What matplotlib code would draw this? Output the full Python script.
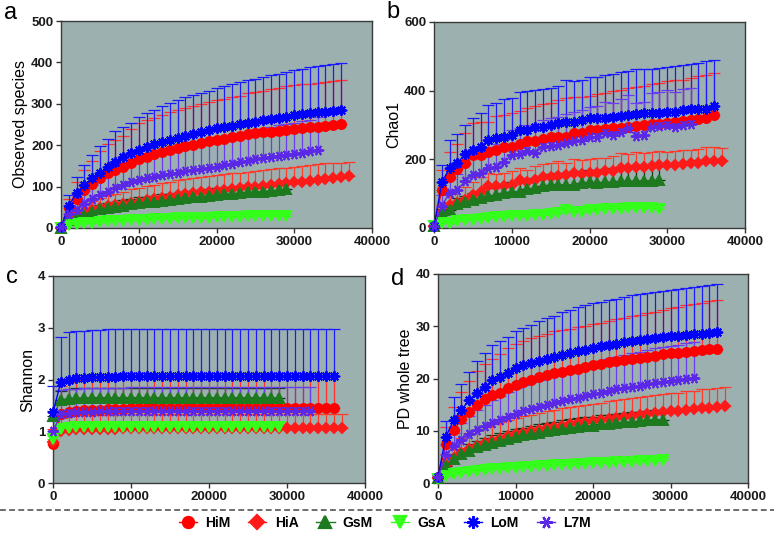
import matplotlib.pyplot as plt
from matplotlib.lines import Line2D
import numpy as np

plt.rcParams['font.family'] = ['Liberation Sans', 'DejaVu Sans']

# sequencing depths (rarefaction steps)
depth_29 = [10] + list(range(1000, 29001, 1000))
depth_33 = [10] + list(range(1000, 33001, 1000))
depth_36 = [10] + list(range(1000, 36001, 1000))
depth_37 = [10] + list(range(1000, 37001, 1000))

groups = ['HiM', 'HiA', 'GsM', 'GsA', 'LoM', 'L7M']

# ---- a: Observed species
obs_HiM = [2, 48, 71, 91, 107, 120, 132, 140, 148, 157, 166, 172, 178, 184, 189, 193, 197, 201, 205, 209, 213,
           216, 219, 222, 226, 229, 231, 233, 235, 237, 239, 241, 243, 245, 247, 249, 251]
obs_HiM_sd = [1, 22, 39, 49, 56, 65, 71, 72, 74, 83, 87, 88, 87, 88, 91, 92, 93, 94, 95, 96, 96,
              96, 97, 98, 99, 100, 101, 102, 103, 105, 106, 106, 106, 106, 106, 106, 106]
obs_HiA = [1, 25, 32, 38, 43, 48, 52, 55, 58, 61, 64, 67, 70, 73, 76, 79, 82, 84, 86, 88, 90,
           92, 94, 96, 98, 100, 102, 104, 106, 108, 110, 112, 114, 116, 118, 120, 122, 126]
obs_HiA_sd = [1, 10, 14, 18, 22, 25, 27, 28, 30, 32, 33, 34, 35, 35, 36, 36, 36, 37, 37, 37, 38,
              38, 38, 38, 38, 38, 38, 38, 38, 38, 38, 38, 38, 38, 38, 37, 36, 34]
obs_GsM = [1, 20, 27, 32, 38, 45, 48, 51, 54, 57, 60, 62, 64, 66, 68, 70, 72, 74, 76, 78, 80,
           81, 83, 84, 86, 87, 88, 90, 91, 93]
obs_GsM_sd = [1, 6, 8, 9, 10, 11, 12, 12, 13, 13, 14, 14, 14, 15, 15, 15, 15, 16, 16, 16, 16,
              16, 17, 17, 17, 17, 17, 17, 17, 17]
obs_GsA = [1, 8, 10, 11, 13, 15, 16, 17, 18, 19, 20, 20, 21, 21, 22, 23, 23, 24, 24, 25, 26,
           26, 27, 27, 28, 28, 28, 29, 29, 30]
obs_GsA_sd = [0.5, 2, 2, 2, 3, 3, 3, 3, 3, 3, 3, 3, 4, 4, 4, 4, 4, 4, 4, 4, 4,
              4, 4, 4, 4, 4, 4, 4, 4, 4]
obs_LoM = [2, 54, 84, 104, 120, 132, 148, 160, 172, 181, 189, 196, 202, 207, 212, 217, 222, 227, 232, 236, 241,
           244, 247, 250, 254, 257, 260, 263, 266, 269, 273, 275, 277, 279, 281, 283, 285]
obs_LoM_sd = [1, 26, 40, 48, 57, 65, 66, 75, 73, 73, 78, 81, 83, 88, 89, 92, 95, 94, 95, 95, 96,
              99, 100, 103, 103, 104, 105, 106, 107, 108, 108, 109, 111, 112, 112, 113, 114]
obs_L7M = [2, 35, 44, 59, 70, 80, 88, 96, 104, 110, 116, 120, 124, 128, 131, 134, 137, 140, 143, 146, 148,
           152, 155, 159, 162, 166, 169, 172, 175, 177, 179, 182, 185, 189]
obs_L7M_sd = [1, 20, 25, 30, 35, 40, 42, 45, 48, 50, 52, 54, 55, 56, 58, 59, 60, 61, 62, 63, 64,
              66, 67, 68, 69, 70, 71, 72, 73, 74, 75, 76, 77, 78]

# ---- b: Chao1
chao_HiM = [5, 111, 150, 171, 189, 213, 213, 220, 226, 235, 237, 245, 252, 252, 258, 264, 266, 266, 276, 276, 284,
            286, 288, 290, 290, 295, 297, 300, 303, 303, 307, 310, 313, 315, 317, 319, 329]
chao_HiM_sd = [2, 59, 70, 74, 89, 92, 95, 90, 99, 95, 98, 97, 98, 103, 102, 101, 106, 112, 106, 107, 101,
               104, 104, 108, 112, 113, 115, 115, 115, 119, 121, 120, 119, 123, 125, 127, 123]
chao_HiA = [5, 44, 68, 73, 82, 97, 106, 121, 121, 123, 126, 140, 135, 140, 148, 150, 152, 155, 160, 158, 160,
            160, 165, 167, 174, 174, 179, 179, 181, 184, 184, 184, 187, 189, 189, 194, 194, 194]
chao_HiA_sd = [2, 24, 32, 37, 36, 38, 44, 39, 37, 37, 39, 35, 33, 40, 37, 40, 43, 35, 40, 40, 42,
               45, 40, 43, 44, 41, 41, 39, 41, 41, 38, 41, 41, 39, 41, 41, 42, 38]
chao_GsM = [5, 44, 51, 71, 75, 82, 87, 92, 97, 102, 106, 106, 113, 116, 121, 126, 126, 126, 126, 131, 133,
            131, 133, 133, 136, 136, 136, 138, 138, 140]
chao_GsM_sd = [2, 10, 14, 16, 18, 20, 22, 24, 25, 26, 27, 28, 29, 30, 31, 32, 33, 34, 36, 36, 37,
               39, 40, 41, 42, 43, 44, 45, 46, 46]
chao_GsA = [5, 15, 16, 19, 22, 24, 26, 29, 32, 32, 34, 36, 36, 39, 39, 42, 44, 51, 46, 48, 51,
            53, 55, 55, 55, 58, 58, 58, 58, 55]
chao_GsA_sd = [1, 4, 4, 5, 5, 6, 6, 6, 7, 7, 7, 8, 8, 8, 8, 9, 9, 12, 10, 10, 10,
               10, 11, 11, 11, 11, 11, 12, 12, 12]
chao_LoM = [5, 133, 174, 189, 216, 227, 237, 257, 261, 266, 271, 286, 286, 295, 295, 300, 305, 310, 310, 315, 319,
            319, 319, 322, 326, 329, 332, 334, 334, 336, 339, 339, 344, 346, 346, 348, 355]
chao_LoM_sd = [2, 51, 82, 86, 84, 92, 98, 101, 104, 110, 107, 109, 112, 108, 110, 108, 110, 122, 118, 117, 121,
               121, 126, 126, 129, 129, 130, 128, 128, 130, 131, 133, 131, 132, 136, 137, 135]
chao_L7M = [5, 65, 102, 111, 136, 155, 160, 174, 179, 191, 213, 216, 223, 218, 237, 239, 242, 249, 252, 257, 264,
            266, 276, 271, 281, 290, 268, 271, 295, 297, 300, 295, 300, 303]
chao_L7M_sd = [2, 30, 40, 45, 50, 55, 58, 62, 65, 68, 72, 74, 76, 76, 78, 80, 82, 84, 85, 86, 88,
               90, 92, 92, 94, 96, 95, 96, 98, 100, 102, 102, 104, 105]

# ---- c: Shannon
shan_HiM = [0.75, 1.33, 1.38, 1.40, 1.41, 1.42, 1.42, 1.43, 1.43, 1.43, 1.44, 1.44, 1.44, 1.44, 1.44, 1.44, 1.44,
            1.44, 1.44, 1.45, 1.45, 1.45, 1.45, 1.45, 1.45, 1.45, 1.45, 1.45, 1.45, 1.45, 1.45, 1.45, 1.45, 1.45,
            1.45, 1.45, 1.45]
shan_HiM_sd = [0.30, 0.55, 0.58, 0.60, 0.60, 0.60, 0.61, 0.61, 0.61, 0.61, 0.61, 0.61, 0.61, 0.61, 0.61, 0.61,
               0.61, 0.61, 0.61, 0.61, 0.61, 0.61, 0.61, 0.61, 0.61, 0.61, 0.61, 0.61, 0.61, 0.61, 0.61, 0.61,
               0.61, 0.61, 0.61, 0.61, 0.61]
shan_HiA = [0.80, 1.00, 1.03, 1.04, 1.05, 1.05, 1.05, 1.05, 1.05, 1.06, 1.06, 1.06, 1.06, 1.06, 1.06, 1.06, 1.06,
            1.06, 1.06, 1.06, 1.06, 1.06, 1.06, 1.06, 1.06, 1.06, 1.06, 1.06, 1.06, 1.06, 1.06, 1.06, 1.06, 1.06,
            1.06, 1.06, 1.06, 1.06]
shan_HiA_sd = [0.15, 0.25, 0.26, 0.27, 0.27, 0.27, 0.27, 0.27, 0.27, 0.27, 0.27, 0.27, 0.27, 0.27, 0.27, 0.27,
               0.27, 0.27, 0.27, 0.27, 0.27, 0.27, 0.27, 0.27, 0.27, 0.27, 0.27, 0.27, 0.27, 0.27, 0.27, 0.27,
               0.27, 0.27, 0.27, 0.27, 0.27, 0.27]
shan_GsM = [1.30, 1.60, 1.63, 1.64, 1.64, 1.65, 1.65, 1.65, 1.65, 1.65, 1.65, 1.65, 1.65, 1.65, 1.65, 1.65, 1.65,
            1.65, 1.65, 1.65, 1.65, 1.65, 1.65, 1.65, 1.65, 1.65, 1.65, 1.65, 1.65, 1.64]
shan_GsM_sd = [0.10, 0.18, 0.19, 0.19, 0.19, 0.19, 0.19, 0.19, 0.19, 0.19, 0.19, 0.19, 0.19, 0.19, 0.19, 0.19,
               0.19, 0.19, 0.19, 0.19, 0.19, 0.19, 0.19, 0.19, 0.19, 0.19, 0.19, 0.19, 0.19, 0.20]
shan_GsA = [0.85, 1.05, 1.07, 1.08, 1.08, 1.09, 1.09, 1.09, 1.09, 1.09, 1.09, 1.09, 1.09, 1.09, 1.09, 1.09, 1.09,
            1.09, 1.09, 1.09, 1.09, 1.09, 1.09, 1.09, 1.09, 1.09, 1.09, 1.09, 1.09, 1.09]
shan_GsA_sd = [0.05, 0.08, 0.09, 0.09, 0.09, 0.09, 0.09, 0.09, 0.09, 0.09, 0.09, 0.09, 0.09, 0.09, 0.09, 0.09,
               0.09, 0.09, 0.09, 0.09, 0.09, 0.09, 0.09, 0.09, 0.09, 0.09, 0.09, 0.09, 0.09, 0.09]
shan_LoM = [1.37, 1.95, 2.00, 2.02, 2.03, 2.04, 2.05, 2.05, 2.05, 2.06, 2.06, 2.06, 2.06, 2.06, 2.06, 2.06, 2.06,
            2.06, 2.06, 2.06, 2.06, 2.07, 2.07, 2.07, 2.07, 2.07, 2.07, 2.07, 2.07, 2.07, 2.07, 2.07, 2.07, 2.07,
            2.07, 2.07, 2.07]
shan_LoM_sd = [0.51, 0.87, 0.91, 0.91, 0.91, 0.91, 0.91, 0.92, 0.92, 0.91, 0.91, 0.91, 0.91, 0.91, 0.91, 0.91,
               0.91, 0.91, 0.91, 0.91, 0.91, 0.91, 0.91, 0.91, 0.91, 0.91, 0.91, 0.91, 0.91, 0.91, 0.91, 0.91,
               0.91, 0.91, 0.91, 0.91, 0.91]
shan_L7M = [1.00, 1.33, 1.36, 1.37, 1.38, 1.38, 1.39, 1.39, 1.39, 1.39, 1.40, 1.40, 1.40, 1.40, 1.40, 1.40, 1.40,
            1.40, 1.40, 1.40, 1.40, 1.40, 1.40, 1.40, 1.40, 1.40, 1.40, 1.40, 1.40, 1.40, 1.40, 1.40, 1.40, 1.40]
shan_L7M_sd = [0.20, 0.47, 0.46, 0.45, 0.45, 0.45, 0.45, 0.45, 0.45, 0.45, 0.45, 0.45, 0.45, 0.45, 0.45, 0.45,
               0.45, 0.45, 0.45, 0.45, 0.45, 0.45, 0.45, 0.45, 0.45, 0.45, 0.45, 0.45, 0.45, 0.45, 0.45, 0.45,
               0.45, 0.45]

# ---- d: PD whole tree
pd_HiM = [1.2, 7.4, 10.1, 12.3, 13.6, 15.0, 16.0, 16.8, 17.3, 18.1, 18.8, 19.3, 19.8, 20.2, 20.6, 21.0, 21.3,
          21.6, 21.9, 22.2, 22.5, 22.8, 23.1, 23.3, 23.6, 23.8, 24.0, 24.2, 24.4, 24.6, 24.8, 24.9, 25.1, 25.3,
          25.4, 25.6, 25.7]
pd_HiM_sd = [0.3, 3.3, 4.4, 5.2, 5.9, 6.5, 6.8, 7.0, 7.3, 7.7, 7.8, 7.9, 8.0, 8.0, 8.0, 8.0, 7.9, 7.9, 7.9,
             7.9, 7.9, 7.9, 7.9, 8.0, 8.0, 8.1, 8.2, 8.3, 8.4, 8.5, 8.6, 8.8, 8.9, 9.0, 9.1, 9.2, 9.3]
pd_HiA = [1.0, 3.5, 4.8, 5.8, 6.5, 7.1, 7.6, 8.1, 8.5, 8.9, 9.3, 9.6, 9.9, 10.2, 10.5, 10.8, 11.0, 11.3, 11.5,
          11.7, 11.9, 12.1, 12.3, 12.5, 12.7, 12.9, 13.0, 13.2, 13.4, 13.5, 13.7, 13.8, 14.0, 14.1, 14.3, 14.4,
          14.6, 14.7]
pd_HiA_sd = [0.3, 2.0, 2.6, 2.9, 3.0, 3.1, 3.1, 3.2, 3.2, 3.2, 3.2, 3.2, 3.2, 3.2, 3.2, 3.2, 3.3, 3.3, 3.3,
             3.3, 3.3, 3.3, 3.4, 3.4, 3.4, 3.4, 3.4, 3.5, 3.5, 3.5, 3.5, 3.5, 3.6, 3.6, 3.6, 3.6, 3.6, 3.6]
pd_GsM = [1.0, 3.3, 4.5, 5.5, 6.2, 6.8, 7.3, 7.7, 8.1, 8.5, 8.8, 9.1, 9.4, 9.6, 9.9, 10.1, 10.3, 10.5, 10.7,
          10.9, 11.0, 11.2, 11.3, 11.5, 11.6, 11.7, 11.8, 12.0, 12.1, 12.1]
pd_GsM_sd = [0.2, 0.8, 1.0, 1.1, 1.2, 1.3, 1.3, 1.4, 1.4, 1.5, 1.5, 1.5, 1.6, 1.6, 1.6, 1.6, 1.7, 1.7, 1.7,
             1.7, 1.7, 1.8, 1.8, 1.8, 1.8, 1.8, 1.8, 1.8, 1.8, 1.8]
pd_GsA = [0.8, 1.4, 1.7, 1.9, 2.1, 2.3, 2.4, 2.6, 2.7, 2.8, 2.9, 3.0, 3.1, 3.2, 3.3, 3.4, 3.5, 3.5, 3.6,
          3.7, 3.8, 3.8, 3.9, 4.0, 4.0, 4.1, 4.2, 4.2, 4.3, 4.4]
pd_GsA_sd = [0.1, 0.3, 0.3, 0.4, 0.4, 0.4, 0.4, 0.4, 0.4, 0.4, 0.4, 0.4, 0.4, 0.5, 0.5, 0.5, 0.5, 0.5, 0.5,
             0.5, 0.5, 0.5, 0.5, 0.5, 0.5, 0.5, 0.5, 0.5, 0.5, 0.5]
pd_LoM = [1.2, 8.8, 12.0, 14.0, 15.8, 17.3, 18.3, 19.7, 20.3, 21.0, 22.0, 22.5, 23.0, 23.4, 23.8, 24.1, 24.5,
          24.9, 25.2, 25.5, 25.9, 26.2, 26.4, 26.6, 26.9, 27.1, 27.3, 27.5, 27.7, 27.9, 28.1, 28.2, 28.4, 28.5,
          28.6, 28.8, 28.9]
pd_LoM_sd = [0.3, 3.0, 4.5, 5.0, 5.5, 6.0, 6.5, 6.8, 6.9, 7.0, 7.0, 7.1, 7.3, 7.6, 7.7, 7.9, 8.2, 8.3, 8.4,
             8.5, 8.5, 8.5, 8.6, 8.7, 8.7, 8.8, 8.8, 8.8, 8.8, 8.8, 8.8, 8.9, 8.9, 9.0, 9.1, 9.1, 9.1]
pd_L7M = [1.2, 5.3, 7.0, 8.3, 9.3, 10.2, 10.9, 11.5, 12.1, 12.7, 13.2, 13.7, 14.1, 14.5, 14.9, 15.3, 15.7,
          16.0, 16.3, 16.7, 17.0, 17.3, 17.6, 17.9, 18.1, 18.4, 18.6, 18.9, 19.1, 19.3, 19.5, 19.7, 19.9, 20.1]
pd_L7M_sd = [0.3, 2.0, 2.6, 3.1, 3.5, 3.8, 4.1, 4.3, 4.5, 4.7, 4.9, 5.0, 5.2, 5.3, 5.4, 5.5, 5.6, 5.7, 5.8,
             5.9, 6.0, 6.1, 6.2, 6.3, 6.4, 6.5, 6.5, 6.6, 6.7, 6.7, 6.8, 6.8, 6.9, 6.9]

depths = {'HiM': depth_36, 'HiA': depth_37, 'GsM': depth_29, 'GsA': depth_29, 'LoM': depth_36, 'L7M': depth_33}
colors = {'HiM': '#ff0000', 'HiA': '#ff1a1a', 'GsM': '#1e7a1e', 'GsA': '#33ff1a', 'LoM': '#0000ff', 'L7M': '#5a28e6'}
ecolors = {'HiM': '#ff3030', 'HiA': '#ff3a2a', 'GsM': '#123812', 'GsA': '#40f020', 'LoM': '#1a1aff', 'L7M': '#6a3cf0'}
markers = {'HiM': 'o', 'HiA': 'D', 'GsM': '^', 'GsA': 'v', 'LoM': (8, 2, 0), 'L7M': (6, 2, 90)}
msizes = {'HiM': 6.5, 'HiA': 5.5, 'GsM': 6.5, 'GsA': 6.5, 'LoM': 7.5, 'L7M': 7.5}

# letter, ylabel, yticks, data, axes box in pixels (left, top, width, height), letter position (x, baseline)
panels = [
    ('a', 'Observed species', [0, 100, 200, 300, 400, 500],
     {'HiM': (obs_HiM, obs_HiM_sd), 'HiA': (obs_HiA, obs_HiA_sd), 'GsM': (obs_GsM, obs_GsM_sd),
      'GsA': (obs_GsA, obs_GsA_sd), 'LoM': (obs_LoM, obs_LoM_sd), 'L7M': (obs_L7M, obs_L7M_sd)},
     [61, 21, 311, 207], (4, 19)),
    ('b', 'Chao1', [0, 200, 400, 600],
     {'HiM': (chao_HiM, chao_HiM_sd), 'HiA': (chao_HiA, chao_HiA_sd), 'GsM': (chao_GsM, chao_GsM_sd),
      'GsA': (chao_GsA, chao_GsA_sd), 'LoM': (chao_LoM, chao_LoM_sd), 'L7M': (chao_L7M, chao_L7M_sd)},
     [434, 22, 311, 206], (386, 18)),
    ('c', 'Shannon', [0, 1, 2, 3, 4],
     {'HiM': (shan_HiM, shan_HiM_sd), 'HiA': (shan_HiA, shan_HiA_sd), 'GsM': (shan_GsM, shan_GsM_sd),
      'GsA': (shan_GsA, shan_GsA_sd), 'LoM': (shan_LoM, shan_LoM_sd), 'L7M': (shan_L7M, shan_L7M_sd)},
     [53, 276, 312, 207], (6, 283)),
    ('d', 'PD whole tree', [0, 10, 20, 30, 40],
     {'HiM': (pd_HiM, pd_HiM_sd), 'HiA': (pd_HiA, pd_HiA_sd), 'GsM': (pd_GsM, pd_GsM_sd),
      'GsA': (pd_GsA, pd_GsA_sd), 'LoM': (pd_LoM, pd_LoM_sd), 'L7M': (pd_L7M, pd_L7M_sd)},
     [438, 274, 310, 209], (391, 285)),
]

W, H = 774, 537
fig = plt.figure(figsize=(W / 100, H / 100), dpi=100)

for letter, ylabel, yticks, data, (px, py, pw, ph), (lx, ly) in panels:
    ax = fig.add_axes([px / W, 1 - (py + ph) / H, pw / W, ph / H])
    ax.set_facecolor('#9cb0b0')
    for g in groups:
        y, sd = data[g]
        x = depths[g]
        ax.errorbar(x, y, yerr=[np.zeros(len(sd)), sd], fmt='none', ecolor=ecolors[g],
                    elinewidth=0.9, capsize=4, capthick=0.9, zorder=2, clip_on=False)
    for g in groups:
        y, sd = data[g]
        ax.plot(depths[g], y, color=colors[g], lw=1.0, marker=markers[g], ms=msizes[g],
                mew=1.4, zorder=3, clip_on=False)
    ax.set_xlim(0, 40000)
    ax.set_ylim(yticks[0], yticks[-1])
    ax.set_xticks([0, 10000, 20000, 30000, 40000])
    ax.set_yticks(yticks)
    ax.tick_params(direction='out', length=3.5, width=1, color='#333333', labelsize=9.5, pad=2)
    for lab in ax.get_xticklabels() + ax.get_yticklabels():
        lab.set_fontweight('bold')
        lab.set_color('#1a1a1a')
    for s in ax.spines.values():
        s.set_color('#3a3a3a')
        s.set_linewidth(1.0)
    ax.set_ylabel(ylabel, fontsize=11.5, labelpad=2)
    fig.text(lx / W, 1 - ly / H, letter, fontsize=17, ha='left', va='baseline')

# dashed separator
fig.add_artist(Line2D([0.0, 1.0], [1 - 510 / H, 1 - 510 / H], color='#555555', lw=1.2,
                      linestyle=(0, (3.5, 2))))

handles = [Line2D([], [], color=colors[g], lw=1.0, marker=markers[g], ms=msizes[g] + 1.5, mew=1.6)
           for g in groups]
fig.legend(handles, groups, loc='center', bbox_to_anchor=(0.497, 1 - 523 / H), ncol=6, frameon=False,
           handlelength=1.3, handletextpad=0.6, columnspacing=1.3, prop={'weight': 'bold', 'size': 10})

fig.savefig('out.png', dpi=100)
